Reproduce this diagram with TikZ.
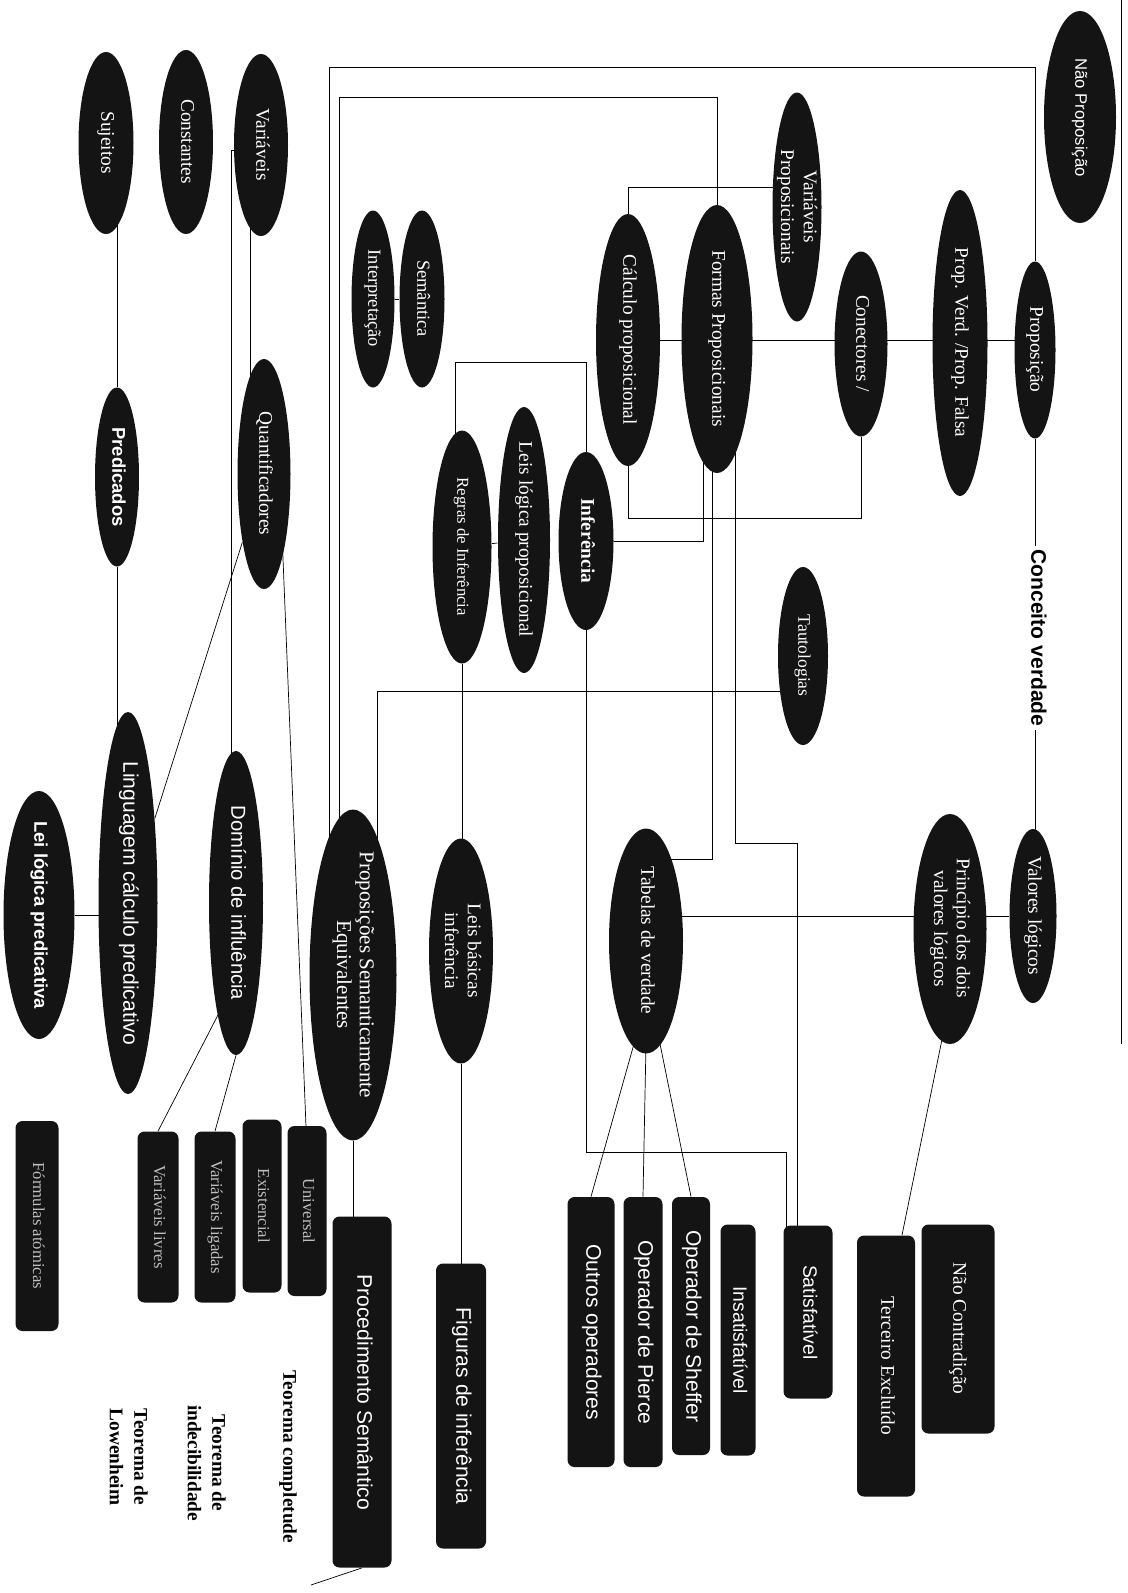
\documentclass[tikz,border=0pt]{standalone}
\usepackage{graphicx}
\usepackage{fontspec}
\setmainfont{Liberation Serif}
\setsansfont{Liberation Sans}
\usetikzlibrary{shapes.geometric,calc,backgrounds}
% text turned to read from top to bottom, taking no room in the node
\newcommand{\vtxt}[1]{\makebox[0pt]{\raisebox{-.5ex}[0pt][0pt]{\rotatebox[origin=c]{-90}{\begin{tabular}{@{}c@{}}#1\end{tabular}}}}}
\tikzset{
  oval/.style 2 args={ellipse,fill=black!92,text=white,inner sep=0pt,
    minimum width={#1*0.02cm},minimum height={#2*0.02cm}},
  tag/.style 2 args={rectangle,rounded corners=4pt,fill=black!92,text=white,inner sep=0pt,
    minimum width={#1*0.02cm},minimum height={#2*0.02cm}},
  rm/.style={font=\rmfamily\fontsize{#1}{13}\selectfont},
  rm/.default=11,
  rmb/.style={font=\rmfamily\bfseries\fontsize{#1}{13}\selectfont},
  rmb/.default=11,
  ss/.style={font=\sffamily\fontsize{#1}{13}\selectfont},
  ss/.default=11,
  ssb/.style={font=\sffamily\bfseries\fontsize{#1}{13}\selectfont},
  ssb/.default=11,
  faint/.style={font=\rmfamily\fontsize{9.5}{11}\selectfont,text=white!75!black},
  thm/.style={font=\rmfamily\bfseries\fontsize{11}{14}\selectfont,inner sep=0pt},
  link/.style={line width=0.8pt},
}

\begin{document}
\begin{tikzpicture}[x=0.02cm,y=-0.02cm]
  \useasboundingbox (0,0) rectangle (1128,1593);
  % predicate side
  \node[oval={55}{182},rm] (suj) at (106,143) {\vtxt{Sujeitos}};
  \node[oval={54}{184},rm] (const) at (186,142) {\vtxt{Constantes}};
  \node[oval={54}{182},rm] (var) at (261,145) {\vtxt{Variáveis}};
  \node[oval={44}{179},ssb=10.5] (pred) at (117,477) {\vtxt{Predicados}};
  \node[oval={53}{230},rm] (quant) at (264,474) {\vtxt{Quantificadores}};
  \node[oval={43}{177},rm=10.5] (interp) at (373,299) {\vtxt{Interpretação}};
  \node[oval={45}{177},rm=10.5] (sem) at (422,299) {\vtxt{Semântica}};
  \node[oval={54}{304},ss=11.5] (dominio) at (236,903) {\vtxt{Domínio de influência}};
  \node[oval={59}{382},ss=12] (ling) at (128,903) {\vtxt{Linguagem cálculo predicativo}};
  \node[oval={71}{248},ssb=10.5] (lei) at (39,915) {\vtxt{Lei lógica predicativa}};
  \node[oval={87}{331},rm=12] (pse) at (353,975) {\vtxt{Proposições Semanticamente\\Equivalentes}};
  % propositional side
  \node[oval={59}{233},rm=9.5] (regras) at (462,547) {\vtxt{Regras de Inferência}};
  \node[oval={52}{266},rm] (leisprop) at (524,540) {\vtxt{Leis lógica proposicional}};
  \node[oval={55}{178},rmb] (inf) at (586,541) {\vtxt{Inferência}};
  \node[oval={64}{252},rm] (calc) at (628,340) {\vtxt{Cálculo proposicional}};
  \node[oval={71}{268},rm] (formas) at (717,339) {\vtxt{Formas Proposicionais}};
  \node[oval={49}{229},rm] (varprop) at (797,207) {\vtxt{Variáveis\\Proposicionais}};
  \node[oval={53}{185},rm] (conect) at (861,344) {\vtxt{Conectores /}};
  \node[oval={55}{306},rm] (propvf) at (960,343) {\vtxt{Prop. Verd. /Prop. Falsa}};
  \node[oval={41}{177},rm] (prop) at (1035,350) {\vtxt{Proposição}};
  \node[oval={72}{212},ss=9.5] (naoprop) at (1080,117) {\vtxt{Não Proposição}};
  \node[font=\sffamily\bfseries\fontsize{12}{14}\selectfont,inner sep=2pt] (conceito) at (1039,638) {\rotatebox{-90}{Conceito verdade}};
  \node[oval={50}{178},rm=10] (tauto) at (803,656) {\vtxt{Tautologias}};
  \node[oval={47}{174},rm] (valores) at (1033,916) {\vtxt{Valores lógicos}};
  \node[oval={73}{230},rm] (princ) at (950,929) {\vtxt{Princípio dos dois\\valores lógicos}};
  \node[oval={74}{225},rm] (tabelas) at (646,941) {\vtxt{Tabelas de verdade}};
  \node[oval={64}{225},rm] (leisbas) at (461,951) {\vtxt{Leis básicas\\inferência}};
  % boxes
  \node[tag={43}{210},faint] (form) at (37,1226) {\vtxt{Fórmulas atómicas}};
  \node[tag={41}{171},faint] (varliv) at (158,1217) {\vtxt{Variáveis livres}};
  \node[tag={41}{171},faint] (varlig) at (215,1217) {\vtxt{Variáveis ligadas}};
  \node[tag={39}{173},faint] (exist) at (262,1206) {\vtxt{Existencial}};
  \node[tag={39}{170},faint] (univ) at (307,1211) {\vtxt{Universal}};
  \node[tag={59}{351},ss=12] (proc) at (362,1392) {\vtxt{Procedimento Semântico}};
  \node[tag={50}{285},ss=12] (fig) at (461,1406) {\vtxt{Figuras de inferência}};
  \node[tag={47}{270},ss=12] (outros) at (591,1332) {\vtxt{Outros operadores}};
  \node[tag={39}{270},ss=12] (pierce) at (643,1332) {\vtxt{Operador de Pierce}};
  \node[tag={38}{258},ss=12] (sheffer) at (691,1326) {\vtxt{Operador de Sheffer}};
  \node[tag={35}{231},ss=11] (insat) at (738,1340) {\vtxt{Insatisfatível}};
  \node[tag={49}{173},ss=11] (satisf) at (808,1312) {\vtxt{Satisfatível}};
  \node[tag={58}{261},rm] (terceiro) at (886,1366) {\vtxt{Terceiro Excluído}};
  \node[tag={73}{209},rm] (naocontra) at (958,1329) {\vtxt{Não Contradição}};
  % theorems
  \node[thm] (tcomp) at (288,1457) {\rotatebox{-90}{Teorema completude}};
  \node[thm] (tindec) at (205,1463) {\rotatebox{-90}{\begin{tabular}{@{}c@{}}Teorema de\\indecibilidade\end{tabular}}};
  \node[thm] (tlow) at (127,1457) {\rotatebox{-90}{\begin{tabular}{@{}c@{}}Teorema de\\Lowenheim\end{tabular}}};
  \coordinate (topA) at (329,67);
  \coordinate (topB) at (339,97);
  \coordinate (tail) at (311,1585);

  \begin{scope}[on background layer,link]
    \fill[white] (0,0) rectangle (1128,1593);
    \draw (1121,0) -- (1121,1044);
    \draw (pred) -- (pred |- suj);
    \draw (pred) -- (pred |- ling);
    \draw ($(quant)+(-14,0)$) -- ($(var)+(-11,0)$);
    \draw ($(quant)+(-14,0)$) -- ($(quant)+(-14,0)$ |- dominio);
    \draw ($(var)+(0,5)$) -| ($(dominio)+(-5,0)$);
    \draw ($(quant)+(6,0)$) -- ($(quant)+(6,0)$ |- exist);
    \draw ($(quant)+(18,60)$) -- ($(univ)+(0,-60)$);
    \draw (quant) -- (ling);
    \draw ($(dominio)+(-17,110)$) -- (varliv.north);
    \draw (dominio.south) -- (varlig.north);
    \draw (lei) -- (lei -| ling);
    % long routes over the top
    \draw (prop) |- (topA) -- (topA |- pse);
    \draw (formas) |- (topB) -- (topB |- pse);
    \draw ($(interp)+(-11,0)$) -- ($(interp)+(-11,0)$ |- pse);
    \draw (interp) -- (sem);
    \draw ($(tauto)+(0,35)$) -| ($(pse)+(24,0)$);
    \draw ($(leisprop)+(0,106)$) -- ($(leisprop)+(0,106)$ -| tauto);
    \draw (regras) -- (leisprop);
    \draw ($(regras)+(-7,0)$) |- ($(inf)+(0,-179)$) -- (inf);
    \draw (inf) -| ($(formas)+(-14,0)$);
    \draw (calc) |- ($(varprop)+(0,-20)$);
    \draw ($(formas)+(0,-62)$) -- ($(formas)+(0,-62)$ -| varprop);
    \draw (calc) -- (calc -| prop);
    \draw (calc) |- ($(conect)+(0,174)$) -- (conect);
    \draw (prop) -- (prop |- conceito.north);
    \draw (prop |- conceito.south) -- (prop |- valores);
    \draw (valores) -- (valores -| tabelas);
    \foreach \b/\dx in {outros/-12,pierce/0,sheffer/14}
      \draw ($(tabelas.south)+(\dx,-10)$) -- (\b.north);
    \draw ($(formas)+(-5,0)$) |- ($(tabelas)+(0,-82)$);
    \draw ($(formas)+(9,0)$) -- ($(formas)+(9,0)$ |- insat);
    \draw ($(formas)+(18,0)$) |- ($(satisf)+(-11,-469)$) -- ($(satisf)+(-11,0)$);
    \draw ($(tauto)+(4,0)$) -- ($(tauto)+(4,0)$ |- satisf);
    \draw (inf) |- ($(satisf)+(-22,-160)$) -- ($(satisf)+(-22,0)$);
    \draw (regras) -- (regras |- leisbas);
    \draw (leisbas) -- (leisbas |- fig);
    \draw (pse) -- (pse |- proc);
    \draw (proc.south) -- (tail);
    \draw ($(princ.south)+(-8,-5)$) -- ($(terceiro.north)+(16,0)$);
    \draw ($(princ)+(9,0)$) -- ($(princ)+(9,0)$ |- naocontra);
  \end{scope}
\end{tikzpicture}
\end{document}
